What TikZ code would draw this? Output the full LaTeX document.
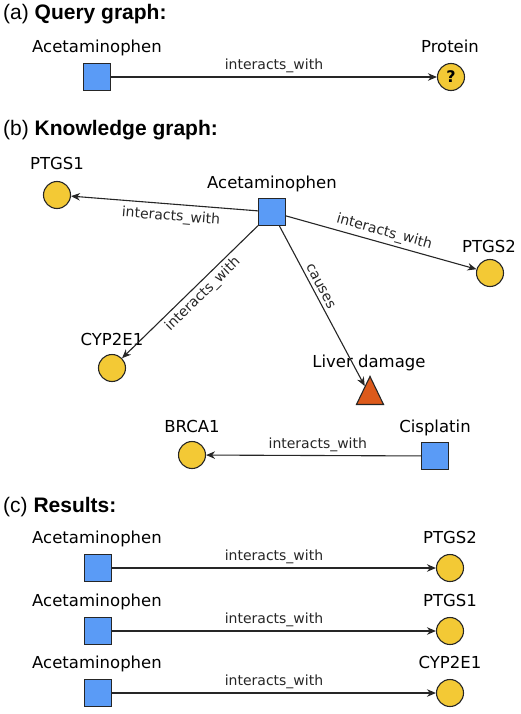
\documentclass[tikz,border=0pt]{standalone}
\usepackage{fontspec}
\setmainfont{DejaVu Sans}
\newfontfamily\headfont{Liberation Sans}
\usepackage{tikz}
\usetikzlibrary{arrows.meta,shapes.geometric}
\definecolor{drugblue}{HTML}{5A9BF6}
\definecolor{protyellow}{HTML}{F3C935}
\definecolor{disorange}{HTML}{DD5A1B}
\tikzset{drug/.style={rectangle,draw=black!85,fill=drugblue,minimum size=27pt,inner sep=0pt,line width=1.1pt},prot/.style={circle,draw=black!85,fill=protyellow,minimum size=27pt,inner sep=0pt,line width=1.1pt},dis/.style={isosceles triangle,isosceles triangle stretches,shape border rotate=90,draw=black!85,fill=disorange,minimum width=27pt,minimum height=28pt,inner sep=0pt,line width=1.1pt}}
\tikzset{nm/.style={anchor=base,inner sep=0pt,font=\fontsize{16.5}{18}\selectfont},lab/.style={font=\fontsize{14}{16}\selectfont},head/.style={anchor=base west,inner sep=0pt,font=\headfont\fontsize{21}{24}\selectfont}}
\tikzset{rel/.style={line width=1.1pt,black!85,>={Stealth[length=9pt,width=7.5pt]},->}}

\begin{document}
\begin{tikzpicture}[x=1pt,y=-1pt]
  \useasboundingbox (0,0) rectangle (520,714);
  % (a) query graph
  \node[head] (h1) at (3,20) {(a) \textbf{Query graph:}};
  \node[drug] (q1) at (97,77) {};
  \node[prot,font=\bfseries\fontsize{16}{16}\selectfont] (q2) at (451,77) {?};
  \node[nm] (t1) at (97,53) {Acetaminophen};
  \node[nm] (t2) at (450,53) {Protein};
  \draw[rel] (q1) edge node[lab,above] {interacts\_with} (q2);
  % (b) knowledge graph
  \node[head] (h2) at (3,136) {(b) \textbf{Knowledge graph:}};
  \node[drug] (k1) at (272,212) {};
  \node[prot] (k2) at (57,195) {};
  \node[prot] (k3) at (490,273) {};
  \node[prot] (k4) at (112,368) {};
  \node[dis,anchor=lower side] (k5) at (370,405) {};
  \node[prot] (k6) at (192,455) {};
  \node[drug] (k7) at (435,456) {};
  \node[nm] (t3) at (272,188) {Acetaminophen};
  \node[nm] (t4) at (57,170) {PTGS1};
  \node[nm] (t5) at (489,252) {PTGS2};
  \node[nm] (t6) at (112,345) {CYP2E1};
  \node[nm] (t7) at (369,367) {Liver damage};
  \node[nm] (t8) at (192,432) {BRCA1};
  \node[nm] (t9) at (435,432) {Cisplatin};
  \draw[rel] (k1) edge node[lab,sloped,below,pos=.46,yshift=-2pt] {interacts\_with} (k2)
    edge node[lab,sloped,above,pos=.5] {interacts\_with} (k3)
    edge node[lab,sloped,below,pos=.46] {interacts\_with} (k4)
    edge node[lab,sloped,above,pos=.4] {causes} (k5)
    (k7) edge node[lab,above,pos=.48] {interacts\_with} (k6);
  % (c) results
  \node[head] (h3) at (3,512) {(c) \textbf{Results:}};
  \node[drug] (r1) at (98,568) {};
  \node[prot] (r2) at (450,568) {};
  \node[drug] (r3) at (98,631) {};
  \node[prot] (r4) at (450,631) {};
  \node[drug] (r5) at (98,693) {};
  \node[prot] (r6) at (450,693) {};
  \node[nm] (s1) at (97,543) {Acetaminophen};
  \node[nm] (s2) at (450,543) {PTGS2};
  \node[nm] (s3) at (97,606) {Acetaminophen};
  \node[nm] (s4) at (450,606) {PTGS1};
  \node[nm] (s5) at (97,668) {Acetaminophen};
  \node[nm] (s6) at (450,668) {CYP2E1};
  \draw[rel] (r1) edge node[lab,above] {interacts\_with} (r2)
    (r3) edge node[lab,above] {interacts\_with} (r4)
    (r5) edge node[lab,above] {interacts\_with} (r6);
\end{tikzpicture}
\end{document}
